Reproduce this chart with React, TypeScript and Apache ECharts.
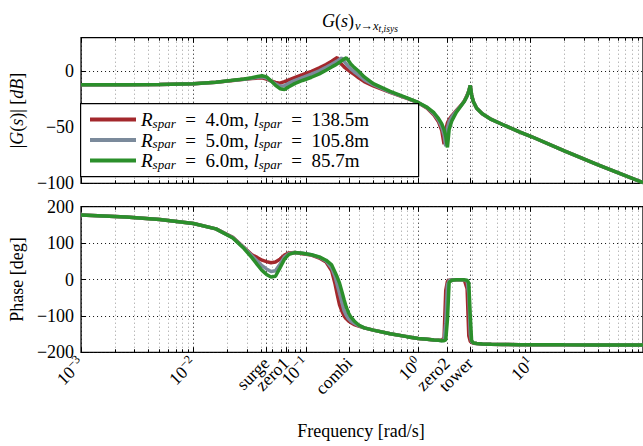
import React, { useEffect, useRef } from "react";
import * as echarts from "echarts";

// log10 of frequency [rad/s]
const logFreq = [
  -3.0, -2.6, -2.3, -2.0, -1.8, -1.65, -1.55, -1.48, -1.43, -1.39,
  -1.35, -1.31, -1.27, -1.23, -1.19, -1.15, -1.1, -1.03, -0.95, -0.88,
  -0.82, -0.77, -0.74, -0.72, -0.70, -0.68, -0.66, -0.64, -0.62, -0.60,
  -0.57, -0.53, -0.48, -0.40, -0.25, -0.10, 0.0, 0.08, 0.14, 0.18,
  0.21, 0.23, 0.245, 0.26, 0.275, 0.30, 0.34, 0.38, 0.41, 0.435,
  0.45, 0.463, 0.475, 0.49, 0.52, 0.57, 0.65, 0.75, 0.9, 1.0,
  1.3, 1.6, 2.0,
];

// magnitude [dB]
const magR4 = [
  -12.1, -12.0, -11.7, -11.2, -9.8, -8.2, -7.2, -6.5, -6.0, -5.8,
  -7.0, -8.6, -10.0, -10.6, -9.2, -7.6, -5.6, -3.0, 0.0, 3.0,
  6.0, 9.0, 11.0, 12.3, 8.5, 6.0, 4.0, 2.3, 0.8, -0.6,
  -2.8, -5.8, -9.2, -13.0, -18.8, -24.2, -28.0, -33.0, -39.0, -45.0,
  -53.0, -65.0, -52.0, -46.0, -43.0, -39.5, -35.0, -30.5, -26.5, -21.5,
  -17.5, -12.7, -21.0, -27.0, -33.0, -38.0, -43.0, -47.5, -54.0, -58.0,
  -71.0, -83.5, -99.5,
];
const magR5 = [
  -12.1, -12.0, -11.7, -11.2, -9.8, -8.1, -7.0, -6.2, -5.3, -4.9,
  -6.0, -8.6, -11.3, -13.2, -12.8, -10.6, -8.3, -5.6, -2.6, 0.4,
  3.5, 6.3, 8.0, 9.3, 10.7, 11.8, 9.0, 6.5, 4.2, 2.2,
  -0.4, -3.5, -7.5, -12.0, -18.5, -24.0, -28.0, -32.6, -38.0, -43.5,
  -50.0, -57.0, -67.0, -50.5, -45.0, -40.5, -35.5, -30.8, -26.8, -21.8,
  -17.8, -12.7, -21.0, -27.0, -33.0, -38.0, -43.0, -47.5, -54.0, -58.0,
  -71.0, -83.5, -99.5,
];
const magR6 = [
  -12.1, -12.0, -11.7, -11.2, -9.8, -8.0, -6.8, -5.8, -4.6, -4.0,
  -5.0, -8.5, -12.5, -15.5, -16.3, -13.8, -11.0, -8.2, -5.3, -2.3,
  1.0, 3.8, 5.5, 6.7, 8.0, 9.5, 11.0, 12.0, 9.5, 6.5,
  3.5, 0.0, -5.0, -11.0, -18.0, -23.8, -27.8, -32.2, -37.0, -42.0,
  -47.0, -52.0, -58.0, -68.0, -52.0, -44.0, -36.5, -31.0, -27.0, -22.0,
  -18.0, -12.7, -21.0, -27.0, -33.0, -38.0, -43.0, -47.5, -54.0, -58.0,
  -71.0, -83.5, -99.5,
];

// phase [deg]
const phR4 = [
  177, 172, 165, 154, 139, 116, 88, 68, 60, 53,
  49, 46, 48, 56, 67, 73, 74, 71, 67, 59,
  48, 24, -12, -42, -70, -86, -100, -108, -114, -118,
  -124, -128, -133, -139, -149, -157, -162, -164, -166, -167,
  -167, -160, -30, -5, -2, -1, -0.5, -0.5, -1.5, -25,
  -155, -170, -173, -175, -176, -177, -178, -178.5, -179, -179.3,
  -179.6, -179.8, -180,
];
const phR5 = [
  177, 172, 165, 154, 139, 115, 87, 65, 50, 38,
  29, 22, 24, 42, 62, 71, 74, 72, 68, 61,
  51, 32, 8, -15, -38, -62, -85, -98, -108, -114,
  -120, -127, -133, -139, -149, -157, -162, -164, -166, -167,
  -168, -166, -120, -15, -3, -1.5, -0.5, -0.5, -1, -4,
  -40, -150, -171, -174, -176, -177, -178, -178.5, -179, -179.3,
  -179.6, -179.8, -180,
];
const phR6 = [
  177, 172, 165, 154, 139, 114, 85, 60, 40, 25,
  14, 7, 9, 32, 56, 69, 74, 72, 68, 62,
  53, 40, 20, 6, -10, -32, -55, -76, -92, -103,
  -114, -125, -133, -139, -149, -157, -162, -164, -166, -167,
  -168, -168, -166, -110, -8, -2, -0.5, -0.5, -1, -2,
  -10, -100, -168, -174, -176, -177, -178, -178.5, -179, -179.3,
  -179.6, -179.8, -180,
];

const seriesNames = [
  "R_spar = 4.0m, l_spar = 138.5m",
  "R_spar = 5.0m, l_spar = 105.8m",
  "R_spar = 6.0m, l_spar = 85.7m",
];
const legendRich: Record<string, string> = {
  [seriesNames[0]]: "{i|R}{sub|spar}{t|  =  4.0m, }{i|l}{sub|spar}{t|  =  138.5m}",
  [seriesNames[1]]: "{i|R}{sub|spar}{t|  =  5.0m, }{i|l}{sub|spar}{t|  =  105.8m}",
  [seriesNames[2]]: "{i|R}{sub|spar}{t|  =  6.0m, }{i|l}{sub|spar}{t|  =  85.7m}",
};
const colors = ["#a3282c", "#7b8a9b", "#2b8f2b"];

const decadeTicks = [-3, -2, -1, 0, 1];
const decadeLabels = ["{b|10}{sup|−3}", "{b|10}{sup|−2}", "{b|10}{sup|−1}", "{b|10}{sup|0}", "{b|10}{sup|1}"];
const markerNames = ["surge", "zero1", "combi", "zero2", "tower"];
const markerLogFreq = [-1.353, -1.177, -0.614, 0.254, 0.459];
const magTicks = [-100, -50, 0];
const phaseTicks = [-200, -100, 0, 100, 200];
const xAxisTitle = "Frequency [rad/s]";

const FONT = "'Liberation Serif', 'DejaVu Serif', serif";

const majorX = [...decadeTicks, ...markerLogFreq].sort((a, b) => a - b);
const minorX: number[] = [];
for (let n = -3; n <= 1; n++) {
  for (let k = 2; k <= 9; k++) minorX.push(n + Math.log10(k));
}

function xLabel(v: number): string {
  for (let i = 0; i < decadeTicks.length; i++) {
    if (Math.abs(decadeTicks[i] - v) < 1e-6) return decadeLabels[i];
  }
  for (let i = 0; i < markerLogFreq.length; i++) {
    if (Math.abs(markerLogFreq[i] - v) < 1e-6) return "{b|" + markerNames[i] + "}";
  }
  return "";
}

const GRID_LEFT = 76.7;
const GRID_WIDTH = 568.7;

function xAxesFor(gridIndex: number, showLabels: boolean) {
  const base = {
    type: "value",
    gridIndex,
    min: -3,
    max: 2,
    axisLine: { show: false, onZero: false },
  };
  const tickStyle = { color: "#000", width: 1 };
  return [
    {
      ...base,
      position: "bottom",
      axisTick: { show: true, inside: true, length: 5, customValues: majorX, lineStyle: tickStyle },
      axisLabel: showLabels
        ? {
            show: true,
            customValues: majorX,
            rotate: 45,
            margin: 8,
            formatter: (v: number) => xLabel(v),
            rich: {
              b: { fontFamily: FONT, fontSize: 17.5, color: "#000" },
              sup: { fontFamily: FONT, fontSize: 12, color: "#000", padding: [0, 0, 9, 0] },
            },
          }
        : { show: false },
      splitLine: { show: true, lineStyle: { color: "#111", width: 1, type: [1, 3] } },
    },
    {
      ...base,
      position: "bottom",
      axisTick: { show: true, inside: true, length: 3, customValues: minorX, lineStyle: tickStyle },
      axisLabel: { show: false },
      splitLine: { show: true, lineStyle: { color: "#999", width: 1, type: [1, 3] } },
    },
    {
      ...base,
      position: "top",
      axisTick: { show: true, inside: true, length: 5, customValues: majorX, lineStyle: tickStyle },
      axisLabel: { show: false },
      splitLine: { show: false },
    },
    {
      ...base,
      position: "top",
      axisTick: { show: true, inside: true, length: 3, customValues: minorX, lineStyle: tickStyle },
      axisLabel: { show: false },
      splitLine: { show: false },
    },
  ];
}

const minus = (v: number) => String(v).replace("-", "\u2212");

export default function App() {
  const ref = useRef<HTMLDivElement>(null);
  useEffect(() => {
    if (!ref.current) return;
    const chart = echarts.init(ref.current, undefined, { renderer: "svg" });
    const mags = [magR4, magR5, magR6];
    const phs = [phR4, phR5, phR6];
    const option: any = {
      animation: false,
      backgroundColor: "#fff",
      title: {
        text: "{i|G}{n|(}{i|s}{n|)}{s|v→x}{ss|t,isys}",
        left: 317,
        top: 3,
        textStyle: {
          fontWeight: "normal",
          rich: {
            i: { fontFamily: FONT, fontStyle: "italic", fontWeight: "normal", fontSize: 18, color: "#000" },
            n: { fontFamily: FONT, fontWeight: "normal", fontSize: 18, color: "#000" },
            s: { fontFamily: FONT, fontStyle: "italic", fontWeight: "normal", fontSize: 12.5, color: "#000", padding: [9, 0, 0, 1] },
            ss: { fontFamily: FONT, fontStyle: "italic", fontWeight: "normal", fontSize: 9.5, color: "#000", padding: [16, 0, 0, 0] },
          },
        },
      },
      grid: [
        { left: GRID_LEFT, top: 37.7, width: GRID_WIDTH, height: 145.6, show: true, borderColor: "#000", borderWidth: 1.3, backgroundColor: "transparent" },
        { left: GRID_LEFT, top: 206.7, width: GRID_WIDTH, height: 145.6, show: true, borderColor: "#000", borderWidth: 1.3, backgroundColor: "transparent" },
      ],
      xAxis: [...xAxesFor(0, false), ...xAxesFor(1, true)],
      yAxis: [
        {
          type: "value",
          gridIndex: 0,
          min: -100,
          max: 30,
          axisLine: { show: false, onZero: false },
          axisTick: { show: true, inside: true, length: 5, customValues: magTicks, lineStyle: { color: "#000" } },
          axisLabel: { customValues: magTicks, formatter: minus, fontFamily: FONT, fontSize: 18, color: "#000", margin: 7 },
          splitLine: { show: true, lineStyle: { color: "#111", width: 1, type: [1, 3] } },
          name: "{n||}{i|G}{n|(}{i|s}{n|)| [}{i|dB}{n|]}",
          nameLocation: "middle",
          nameRotate: 90,
          nameGap: 50,
          nameTextStyle: {
            rich: {
              i: { fontFamily: FONT, fontStyle: "italic", fontSize: 18, color: "#000" },
              n: { fontFamily: FONT, fontSize: 18, color: "#000" },
            },
          },
        },
        {
          type: "value",
          gridIndex: 1,
          min: -200,
          max: 200,
          interval: 100,
          axisLine: { show: false, onZero: false },
          axisTick: { show: true, inside: true, length: 5, customValues: phaseTicks, lineStyle: { color: "#000" } },
          axisLabel: { customValues: phaseTicks, formatter: minus, fontFamily: FONT, fontSize: 18, color: "#000", margin: 7 },
          splitLine: { show: true, lineStyle: { color: "#111", width: 1, type: [1, 3] } },
          name: "Phase [deg]",
          nameLocation: "middle",
          nameRotate: 90,
          nameGap: 50,
          nameTextStyle: { fontFamily: FONT, fontSize: 18, color: "#000" },
        },
      ],
      legend: {
        data: seriesNames,
        orient: "vertical",
        left: 80,
        top: 108,
        padding: [2, 10, 2, 10],
        itemWidth: 46,
        itemHeight: 4,
        itemGap: 1,
        icon: "rect",
        z: 20,
        formatter: (name: string) => legendRich[name],
        textStyle: {
          color: "#000",
          rich: {
            i: { fontFamily: FONT, fontStyle: "italic", fontSize: 19, color: "#000", lineHeight: 20 },
            t: { fontFamily: FONT, fontSize: 19, color: "#000", lineHeight: 20 },
            sub: { fontFamily: FONT, fontStyle: "italic", fontSize: 13, color: "#000", padding: [7, 0, 0, 0] },
          },
        },
      },
      graphic: [
        {
          type: "rect",
          left: 80,
          top: 103,
          z: 10,
          shape: { width: 338, height: 73 },
          style: { fill: "#fff", stroke: "#000", lineWidth: 1.2 },
        },
        {
          type: "text",
          x: GRID_LEFT + GRID_WIDTH / 2,
          y: 431,
          z: 10,
          style: {
            text: xAxisTitle,
            fontFamily: FONT,
            fontSize: 18,
            fill: "#000",
            align: "center",
            verticalAlign: "middle",
          },
        },
      ],
      series: [
        ...seriesNames.map((name, i) => ({
          type: "line",
          name,
          xAxisIndex: 0,
          yAxisIndex: 0,
          data: logFreq.map((x, j) => [x, mags[i][j]]),
          showSymbol: false,
          symbol: "none",
          lineStyle: { width: 3.5, color: colors[i] },
          itemStyle: { color: colors[i] },
          z: 2 + i,
        })),
        ...seriesNames.map((name, i) => ({
          type: "line",
          name,
          xAxisIndex: 4,
          yAxisIndex: 1,
          data: logFreq.map((x, j) => [x, phs[i][j]]),
          showSymbol: false,
          symbol: "none",
          lineStyle: { width: 3.5, color: colors[i] },
          itemStyle: { color: colors[i] },
          z: 2 + i,
        })),
      ],
    };
    chart.setOption(option);
    return () => chart.dispose();
  }, []);
  return (
    <div
      ref={ref}
      style={{ position: "absolute", left: 0, top: 0, width: 643, height: 446, overflow: "hidden" }}
    />
  );
}
